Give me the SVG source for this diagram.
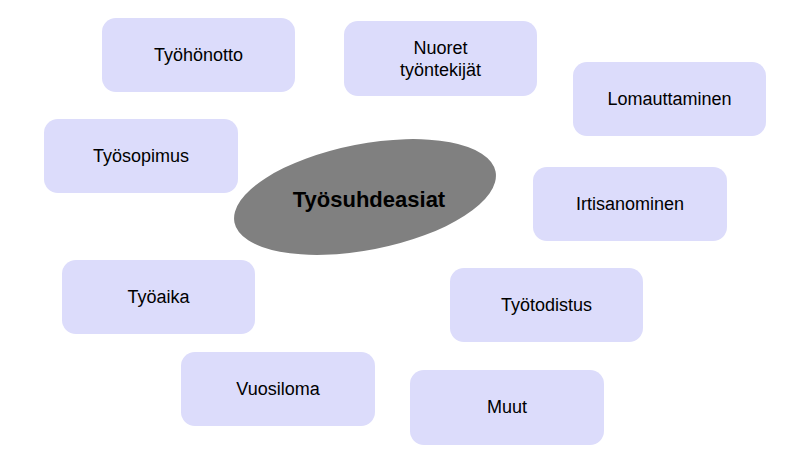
<svg xmlns="http://www.w3.org/2000/svg" width="786" height="454" viewBox="0 0 786 454">
<style>
.box{fill:#dcdcfb;}
.t{font-family:"Liberation Sans",Arial,sans-serif;font-size:18px;fill:#000;text-anchor:middle;}
.c{font-family:"Liberation Sans",Arial,sans-serif;font-size:22px;font-weight:bold;fill:#000;text-anchor:middle;}
</style>
<rect width="786" height="454" fill="#fff"/>
<g id="center"><ellipse cx="365" cy="197" rx="133" ry="53" transform="rotate(-11 365 197)" fill="#808080"/><text class="c" x="369" y="207">Työsuhdeasiat</text></g>
<g id="tyohonotto"><rect class="box" x="102" y="18" width="193" height="74" rx="14"/><text class="t" x="198.5" y="61">Työhönotto</text></g>
<g id="nuoret"><rect class="box" x="344" y="21" width="193" height="75" rx="14"/><text class="t" x="440.5" y="54">Nuoret</text><text class="t" x="440.5" y="76">työntekijät</text></g>
<g id="lomauttaminen"><rect class="box" x="573" y="62" width="193" height="74" rx="14"/><text class="t" x="669.5" y="105">Lomauttaminen</text></g>
<g id="tyosopimus"><rect class="box" x="44" y="119" width="194" height="74" rx="14"/><text class="t" x="141" y="162">Työsopimus</text></g>
<g id="irtisanominen"><rect class="box" x="533" y="167" width="194" height="74" rx="14"/><text class="t" x="630" y="210">Irtisanominen</text></g>
<g id="tyoaika"><rect class="box" x="62" y="260" width="193" height="74" rx="14"/><text class="t" x="158.5" y="303">Työaika</text></g>
<g id="tyotodistus"><rect class="box" x="450" y="268" width="193" height="74" rx="14"/><text class="t" x="546.5" y="311">Työtodistus</text></g>
<g id="vuosiloma"><rect class="box" x="181" y="352" width="194" height="74" rx="14"/><text class="t" x="278" y="395">Vuosiloma</text></g>
<g id="muut"><rect class="box" x="410" y="370" width="194" height="75" rx="14"/><text class="t" x="507" y="413">Muut</text></g>
<g id="connectors"></g>
</svg>
